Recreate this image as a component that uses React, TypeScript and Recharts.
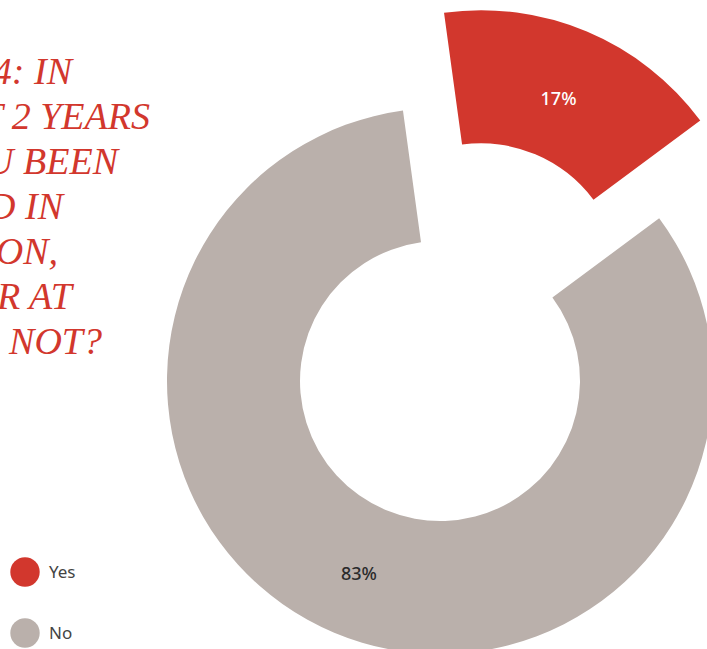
import React from "react";
import { PieChart, Pie, Cell, Legend } from "recharts";

const CATEGORIES = ["Yes", "No"];
const VALUES = [17, 83];
const COLORS = ["#d2372d", "#bab0ab"];
const LABEL_COLORS = ["#ffffff", "#2b2b2b"];

const TITLE_LINES = [
  "Q4: IN",
  "THE LAST 2 YEARS",
  "HAVE YOU BEEN",
  "INVOLVED IN",
  "LITIGATION,",
  "WHETHER AT",
  "FAULT OR NOT?",
];
// right edge of each title line (text is cropped on the left)
const TITLE_RIGHT = [72, 150, 118, 63, 58, 72, 102];

const data = CATEGORIES.map((name, i) => ({ name, value: VALUES[i] }));

const W = 707;
const H = 649;
const CX = 440;
const CY = 381;
const INNER = 140;
const OUTER = 273;
const START = 97.8;
const EXPLODE = 106;
const RADIAN = Math.PI / 180;

// mid angle of the first ("Yes") slice, used to push it out of the ring
const total = VALUES.reduce((a, b) => a + b, 0);
const yesMid = START - (VALUES[0] / total) * 180;
const EX_CX = CX + EXPLODE * Math.cos(yesMid * RADIAN);
const EX_CY = CY - EXPLODE * Math.sin(yesMid * RADIAN);

const makeLabel = (only: number, pos: number) => (props: any) => {
  const { cx, cy, midAngle, innerRadius, outerRadius, index, value } = props;
  if (index !== only) return null;
  const r = innerRadius + (outerRadius - innerRadius) * pos;
  const x = cx + r * Math.cos(-midAngle * RADIAN);
  const y = cy + r * Math.sin(-midAngle * RADIAN);
  return (
    <text
      x={x}
      y={y + 6}
      fill={LABEL_COLORS[index]}
      textAnchor="middle"
      fontFamily="'Noto Sans', sans-serif"
      fontWeight={500}
      fontSize={18}
    >
      {`${value}%`}
    </text>
  );
};

const LegendContent = () => (
  <div style={{ fontFamily: "'Noto Sans', sans-serif" }}>
    {CATEGORIES.map((c, i) => (
      <div key={c} style={{ display: "flex", alignItems: "center", height: 61 }}>
        <svg width={30} height={30} style={{ marginLeft: 10 }}>
          <circle cx={15} cy={15} r={14.7} fill={COLORS[i]} />
        </svg>
        <span style={{ marginLeft: 9, fontSize: 17, color: "#444" }}>{c}</span>
      </div>
    ))}
  </div>
);

export default function App() {
  return (
    <div style={{ position: "absolute", left: 0, top: 0, width: W, height: H, overflow: "hidden", background: "#fff" }}>
      <PieChart width={W} height={H} margin={{ top: 0, right: 0, bottom: 0, left: 0 }}>
        {TITLE_LINES.map((line, i) => (
          <text
            key={line}
            x={TITLE_RIGHT[i]}
            y={84 + i * 45}
            textAnchor="end"
            fill="#d2372d"
            fontFamily="'Liberation Serif', serif"
            fontStyle="italic"
            fontSize={38}
          >
            {line}
          </text>
        ))}
        <Pie
          data={data}
          dataKey="value"
          cx={CX}
          cy={CY}
          innerRadius={INNER}
          outerRadius={OUTER}
          startAngle={START}
          endAngle={START - 360}
          stroke="none"
          labelLine={false}
          label={makeLabel(1, 0.52)}
          isAnimationActive={false}
        >
          {data.map((_, i) => (
            <Cell key={`no-${i}`} fill={i === 1 ? COLORS[1] : "none"} />
          ))}
        </Pie>
        <Pie
          data={data}
          dataKey="value"
          cx={EX_CX}
          cy={EX_CY}
          innerRadius={INNER}
          outerRadius={OUTER}
          startAngle={START}
          endAngle={START - 360}
          stroke="none"
          labelLine={false}
          label={makeLabel(0, 0.45)}
          isAnimationActive={false}
        >
          {data.map((_, i) => (
            <Cell key={`yes-${i}`} fill={i === 0 ? COLORS[0] : "none"} />
          ))}
        </Pie>
        <Legend
          content={<LegendContent />}
          wrapperStyle={{ position: "absolute", left: 0, top: 541, width: 120 }}
        />
      </PieChart>
    </div>
  );
}
